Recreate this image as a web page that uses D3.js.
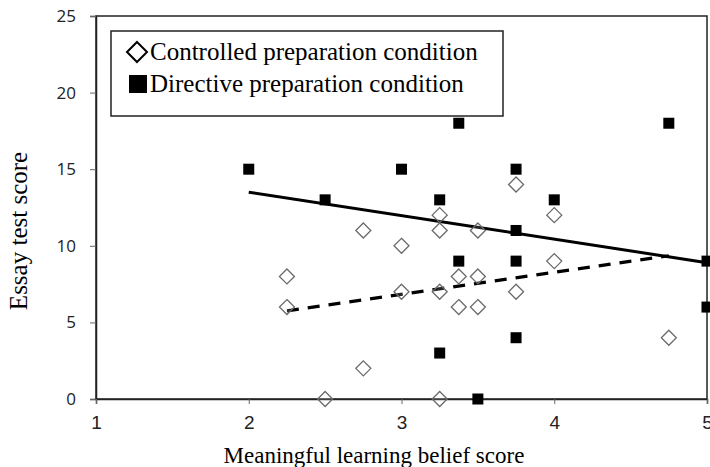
<!DOCTYPE html>
<html>
<head>
<meta charset="utf-8">
<script src="https://cdn.jsdelivr.net/npm/d3@7"></script>
<style>
  body { margin: 0; background: #fff; }
  svg { display: block; }
</style>
</head>
<body>
<svg id="chart" width="710" height="467"></svg>
<script>
// data: [belief score, essay score]
const controlled = [
  [2.25, 8], [2.25, 6], [2.5, 0], [2.75, 11], [2.75, 2], [3, 10], [3, 7],
  [3.25, 12], [3.25, 11], [3.25, 7], [3.25, 0], [3.375, 8], [3.375, 6],
  [3.5, 11], [3.5, 8], [3.5, 6], [3.75, 14], [3.75, 7], [4, 12], [4, 9], [4.75, 4]
];
const directive = [
  [2, 15], [2.5, 13], [3, 15], [3.25, 13], [3.25, 3], [3.375, 18], [3.375, 9],
  [3.5, 0], [3.75, 15], [3.75, 11], [3.75, 9], [3.75, 4], [4, 13], [4.75, 18],
  [5, 9], [5, 6]
];
// fitted lines (end points)
const controlledTrend = [[2.25, 5.75], [4.75, 9.35]];
const directiveTrend = [[2, 13.5], [5, 8.9]];

const xTicks = [1, 2, 3, 4, 5];
const yTicks = [0, 5, 10, 15, 20, 25];
const legendLabels = ['Controlled preparation condition', 'Directive preparation condition'];

const svg = d3.select('#chart');
const x = d3.scaleLinear().domain([1, 5]).range([96, 707]);
const y = d3.scaleLinear().domain([0, 25]).range([399, 16]);

// plot frame
svg.append('rect')
  .attr('x', x(1)).attr('y', y(25))
  .attr('width', x(5) - x(1)).attr('height', y(0) - y(25))
  .attr('fill', 'none').attr('stroke', '#222').attr('stroke-width', 1.5);

const yAxis = svg.append('g')
  .attr('transform', `translate(${x(1)},0)`)
  .call(d3.axisLeft(y).tickValues(yTicks).tickSize(6).tickPadding(14));
yAxis.select('.domain').attr('stroke', '#222').attr('stroke-width', 1.5);
yAxis.selectAll('.tick line').attr('stroke', '#666');
yAxis.selectAll('text')
  .attr('font-family', '"Open Sans", sans-serif').attr('font-size', 17).attr('fill', '#222');

const xAxis = svg.append('g')
  .attr('transform', `translate(0,${y(0)})`)
  .call(d3.axisBottom(x).tickValues(xTicks).tickFormat(d3.format('d')).tickSize(5).tickPadding(12));
xAxis.select('.domain').attr('stroke', '#222').attr('stroke-width', 1.5);
xAxis.selectAll('.tick line').attr('stroke', '#666');
xAxis.selectAll('text')
  .attr('font-family', '"Liberation Sans Narrow", "Arial Narrow", "Liberation Sans", sans-serif')
  .attr('font-size', 19).attr('fill', '#222');

// axis titles
svg.append('text')
  .attr('x', 374).attr('y', 463)
  .attr('text-anchor', 'middle')
  .attr('font-family', '"Liberation Serif", serif').attr('font-size', 23)
  .text('Meaningful learning belief score');

svg.append('text')
  .attr('transform', 'translate(27,231) rotate(-90)')
  .attr('text-anchor', 'middle')
  .attr('font-family', '"Liberation Serif", serif').attr('font-size', 25)
  .text('Essay test score');

const diamond = (cx, cy, r) => `M${cx},${cy - r}L${cx + r},${cy}L${cx},${cy + r}L${cx - r},${cy}Z`;

// trend lines
const line = d3.line().x(d => x(d[0])).y(d => y(d[1]));
svg.append('path').datum(directiveTrend)
  .attr('d', line).attr('fill', 'none').attr('stroke', '#000').attr('stroke-width', 3);
svg.append('path').datum(controlledTrend)
  .attr('d', line).attr('fill', 'none').attr('stroke', '#000').attr('stroke-width', 3.2)
  .attr('stroke-dasharray', '12,9');

// points
svg.append('g').selectAll('path')
  .data(controlled)
  .enter().append('path')
  .attr('d', d => diamond(x(d[0]), y(d[1]), 7.5))
  .attr('fill', '#fff').attr('fill-opacity', 0.15)
  .attr('stroke', '#6a6a6a').attr('stroke-width', 1.3);

svg.append('g').selectAll('rect')
  .data(directive)
  .enter().append('rect')
  .attr('x', d => x(d[0]) - 5.5).attr('y', d => y(d[1]) - 5.5)
  .attr('width', 11).attr('height', 11)
  .attr('fill', '#000');

// legend
const legend = svg.append('g');
legend.append('rect')
  .attr('x', 111).attr('y', 31).attr('width', 392).attr('height', 85)
  .attr('fill', '#fff').attr('stroke', '#222').attr('stroke-width', 1.5);
legend.append('path')
  .attr('d', diamond(137, 52, 10))
  .attr('fill', 'none').attr('stroke', '#000').attr('stroke-width', 2);
legend.append('rect')
  .attr('x', 129).attr('y', 75).attr('width', 18).attr('height', 18).attr('fill', '#000');
legend.selectAll('text')
  .data(legendLabels)
  .enter().append('text')
  .attr('x', 150).attr('y', (d, i) => 60 + i * 32)
  .attr('font-family', '"Liberation Serif", serif').attr('font-size', 25)
  .text(d => d);
</script>
</body>
</html>
